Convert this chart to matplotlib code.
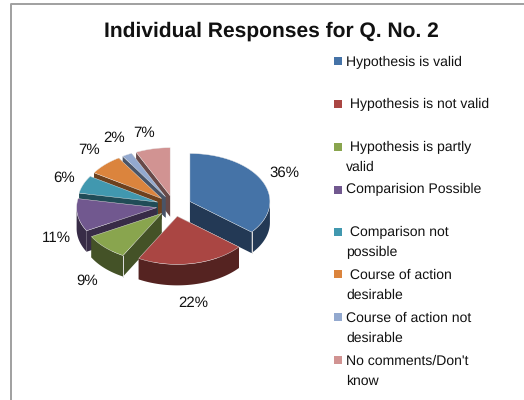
import numpy as np
import matplotlib
matplotlib.use("Agg")
import matplotlib.pyplot as plt
from matplotlib.patches import Polygon, Rectangle

plt.rcParams['font.family'] = ['Liberation Sans', 'DejaVu Sans']
plt.rcParams['text.hinting'] = 'none'
plt.rcParams['text.hinting_factor'] = 1

title = "Individual Responses for Q. No. 2"
categories = ["Hypothesis is valid", " Hypothesis is not valid",
              " Hypothesis is partly\nvalid", "Comparision Possible",
              " Comparison not\npossible", " Course of action\ndesirable",
              "Course of action not\ndesirable", "No comments/Don't\nknow"]
values = [36, 22, 9, 11, 6, 7, 2, 7]
colors = ["#4573A7", "#AA4643", "#89A54E", "#71588F",
          "#4198AF", "#DB843D", "#93A9CF", "#D19392"]
dark = ["#233955", "#552321", "#445227", "#382C47",
        "#204C57", "#6D411E", "#495467", "#684948"]

# pie layout, in pixels of the 524x400 picture
cx, cy = 174, 206
rx, ry = 80, 48
depth = 21
explode = 0.22
label_pos = [(284, 173), (193, 303), (87, 281), (56, 238),
             (64, 178), (89, 150), (114, 138), (144, 133)]
legend_y = [66, 108, 151, 193, 236, 279, 322, 365]
marker_y = [61, 104, 147, 190, 232, 274, 317, 360]

fig = plt.figure(figsize=(5.24, 4), dpi=100)
ax = fig.add_axes([0, 0, 1, 1])
ax.set_xlim(0, 524)
ax.set_ylim(400, 0)
ax.axis("off")

# chart frame
ax.plot([11, 11, 524], [400, 4, 4], color="#a0a0a0", lw=1.4)

ax.text(271, 31, title, fontsize=14.9, fontweight="bold", ha="center", va="center", color="#111111")


def ellipse(a, ox, oy):
    return np.column_stack([ox + rx * np.sin(a), oy - ry * np.cos(a)])


edges = np.radians(np.cumsum([0] + values) * 3.6)
draw_order = [7, 6, 5, 4, 3, 0, 2, 1]
for i in draw_order:
    a0, a1 = edges[i], edges[i + 1]
    mid = (a0 + a1) / 2
    ox = cx + explode * rx * np.sin(mid)
    oy = cy - explode * ry * np.cos(mid)
    arc = ellipse(np.linspace(a0, a1, 80), ox, oy)
    down = np.array([0, depth])
    apex = np.array([ox, oy])
    # cut walls first, then the rim, then the top
    for p in (arc[0], arc[-1]):
        ax.add_patch(Polygon([apex, p, p + down, apex + down], fc=dark[i], ec="none"))
    lo, hi = max(a0, np.pi / 2), min(a1, 3 * np.pi / 2)
    if hi > lo:
        rim = ellipse(np.linspace(lo, hi, 60), ox, oy)
        ax.add_patch(Polygon(np.vstack([rim, rim[::-1] + down]), fc=dark[i], ec="none"))
    # light line down the front corner of the slice
    if i in (0, 2):
        p = arc[-1] if i == 0 else arc[0]
        ax.plot([p[0], p[0]], [p[1], p[1] + depth], color="#e0e0e0", lw=0.7)
    ax.add_patch(Polygon(np.vstack([apex, arc]), fc=colors[i], ec="#e8e8e8", lw=0.3))

for v, (x, y) in zip(values, label_pos):
    ax.text(x, y, f"{v}%", fontsize=10.6, ha="center", va="center", color="#111111")

for name, c, ty, my in zip(categories, colors, legend_y, marker_y):
    ax.add_patch(Rectangle((334, my - 4), 8, 8, fc=c, ec="none"))
    for k, line in enumerate(name.split("\n")):
        ax.text(346, ty + 20 * k, line, fontsize=10.4, ha="left", va="baseline", color="#111111")

fig.savefig("out.png", dpi=100)
